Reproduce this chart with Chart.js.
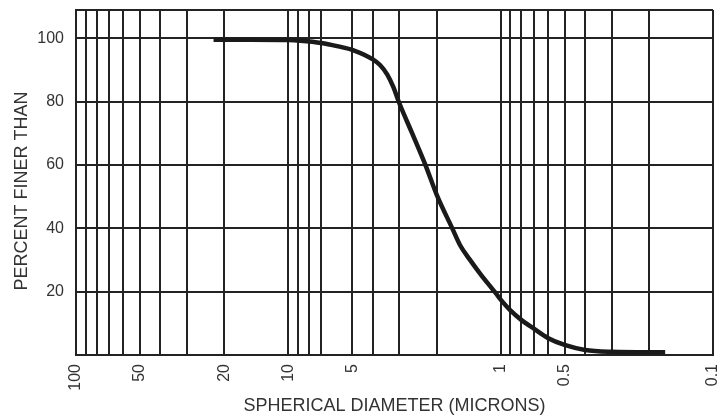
<!DOCTYPE html>
<html>
<head>
<meta charset="utf-8">
<script src="https://cdn.jsdelivr.net/npm/chart.js@4/dist/chart.umd.min.js"></script>
<style>
  html, body { margin: 0; padding: 0; background: #fff; }
  #wrap { width: 726px; height: 417px; }
</style>
</head>
<body>
<div id="wrap"><canvas id="c" width="726" height="417"></canvas></div>
<script>
// Spherical diameter (microns) and cumulative percent finer than
const diameters = [22.5, 15, 10, 8.8, 7, 5.9, 4.9, 4.0, 3.7, 3.42, 3.2, 3.02, 2.61, 2.26, 2.0, 1.69, 1.55, 1.4, 1.24, 1.057, 1.0, 0.9, 0.8, 0.7, 0.6, 0.5, 0.4, 0.3, 0.2, 0.168];
const percentFiner = [99.6, 99.6, 99.5, 99.3, 98.6, 97.6, 96.2, 93.4, 91.6, 88.6, 84.6, 80, 70, 60, 50.6, 40, 34.6, 30.2, 25.4, 19.6, 17.5, 14.1, 11.1, 8.4, 5.4, 3.2, 1.6, 1.0, 0.85, 0.85];

// Axis grid / tick definitions
const xGridValues = [100, 90, 80, 70, 60, 50, 40, 30, 20, 10, 9, 8, 7, 5, 4, 3, 2, 1, 0.9, 0.8, 0.7, 0.6, 0.5, 0.4, 0.3, 0.2, 0.1];
const xTickLabels = ['100', '50', '20', '10', '5', '1', '0.5', '0.1'];
const yGridValues = [0, 20, 40, 60, 80, 100, 109];
const yTickLabels = ['20', '40', '60', '80', '100'];

const xTitle = 'SPHERICAL DIAMETER (MICRONS)';
const yTitle = 'PERCENT FINER THAN';

const points = diameters.map((d, i) => ({ x: d, y: percentFiner[i] }));

const gridColor = '#232323';
const textColor = '#333333';
const fontFamily = '"Liberation Sans", Arial, sans-serif';

const yTitlePlugin = {
  id: 'yTitle',
  afterDraw(chart) {
    const ctx = chart.ctx;
    const area = chart.chartArea;
    ctx.save();
    ctx.fillStyle = textColor;
    ctx.font = '18px ' + fontFamily;
    ctx.textAlign = 'center';
    ctx.textBaseline = 'middle';
    ctx.translate(22, (area.top + area.bottom) / 2 + 8.5);
    ctx.rotate(-Math.PI / 2);
    ctx.fillText(yTitle, 0, 0);
    ctx.restore();
  }
};

new Chart(document.getElementById('c'), {
  type: 'line',
  data: {
    datasets: [{
      data: points,
      borderColor: '#1a1a1a',
      borderWidth: 4.5,
      pointRadius: 0,
      fill: false,
      cubicInterpolationMode: 'monotone',
      borderCapStyle: 'butt'
    }]
  },
  plugins: [yTitlePlugin],
  options: {
    responsive: false,
    animation: false,
    events: [],
    layout: { padding: { top: 10, right: 13, left: 37, bottom: 0 } },
    plugins: { legend: { display: false }, tooltip: { enabled: false } },
    scales: {
      x: {
        type: 'logarithmic',
        reverse: true,
        min: 0.1,
        max: 100,
        afterBuildTicks: (axis) => { axis.ticks = xGridValues.map(v => ({ value: v })); },
        afterFit: (scale) => { scale.paddingLeft = 0; scale.paddingRight = 0; scale.height = 62; },
        ticks: {
          autoSkip: false,
          minRotation: 90,
          maxRotation: 90,
          padding: 9,
          color: textColor,
          font: { family: fontFamily, size: 16 },
          callback: (value) => {
            const s = String(+value.toFixed(3));
            return xTickLabels.includes(s) ? s : '';
          }
        },
        grid: { color: gridColor, lineWidth: 2, drawTicks: false },
        border: { display: true, color: gridColor, width: 2 },
        title: {
          display: true,
          text: xTitle,
          color: textColor,
          font: { family: fontFamily, size: 18 },
          padding: { top: 4, bottom: 0 }
        }
      },
      y: {
        type: 'linear',
        min: 0,
        max: 109,
        afterBuildTicks: (axis) => { axis.ticks = yGridValues.map(v => ({ value: v })); },
        afterFit: (scale) => { scale.paddingTop = 0; scale.paddingBottom = 0; scale.width = 39; },
        ticks: {
          autoSkip: false,
          padding: 12,
          color: textColor,
          font: { family: fontFamily, size: 16 },
          callback: (value) => {
            const s = String(value);
            return yTickLabels.includes(s) ? s : '';
          }
        },
        grid: { color: gridColor, lineWidth: 2, drawTicks: false },
        border: { display: true, color: gridColor, width: 2 },
        title: { display: false }
      }
    }
  }
});
</script>
</body>
</html>
